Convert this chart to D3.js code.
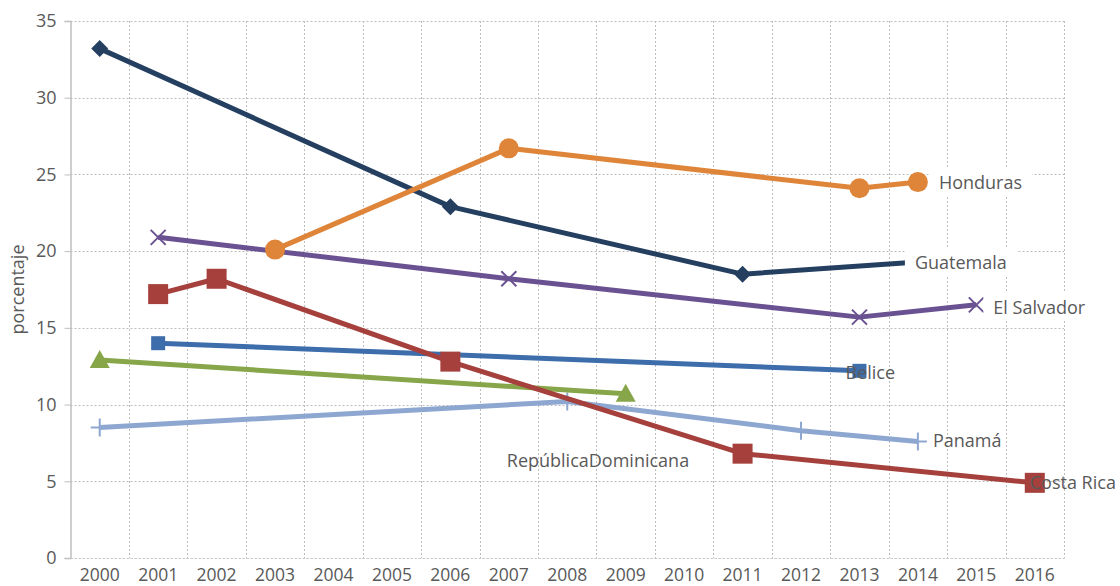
<!DOCTYPE html>
<html>
<head>
<meta charset="utf-8">
<script src="https://cdn.jsdelivr.net/npm/d3@7"></script>
<style>
  body { margin: 0; background: #fff; }
  text { font-family: "Open Sans", "Noto Sans", sans-serif; fill: #595959; }
</style>
</head>
<body>
<svg id="chart" width="1120" height="586"></svg>
<script>
// categories (years) and y ticks
var years = d3.range(2000, 2017).map(String);
var yTicks = [0, 5, 10, 15, 20, 25, 30, 35];

// series values: [year, porcentaje]
var guatemala = [['2000', 33.2], ['2006', 22.9], ['2011', 18.5], ['2014', 19.3]];
var honduras = [['2003', 20.1], ['2007', 26.7], ['2013', 24.1], ['2014', 24.5]];
var elSalvador = [['2001', 20.9], ['2007', 18.2], ['2013', 15.7], ['2015', 16.5]];
var costaRica = [['2001', 17.2], ['2002', 18.2], ['2006', 12.8], ['2011', 6.8], ['2016', 4.9]];
var belice = [['2001', 14.0], ['2013', 12.2]];
var repDominicana = [['2000', 12.9], ['2009', 10.7]];
var panama = [['2000', 8.5], ['2008', 10.2], ['2012', 8.3], ['2014', 7.6]];

var series = [
    {name: 'Panamá', data: panama, color: '#8EA7D1', marker: 'plus', size: 18,
        label: {dx: 15, dy: 6, anchor: 'start'}},
    {name: 'RepúblicaDominicana', data: repDominicana, color: '#87A64A', marker: 'triangle', size: 20,
        label: {at: '2007', val: 6.3, dx: -2, dy: 6, anchor: 'start'}},
    {name: 'Belice', data: belice, color: '#3D6DAA', marker: 'square', size: 14,
        label: {dx: -14, dy: 8, anchor: 'start'}},
    {name: 'Costa Rica', data: costaRica, color: '#A5403C', marker: 'square', size: 20,
        label: {dx: -5, dy: 6, anchor: 'start'}},
    {name: 'El Salvador', data: elSalvador, color: '#6A5191', marker: 'x', size: 15,
        label: {dx: 17, dy: 9, anchor: 'start'}, bg: true},
    {name: 'Guatemala', data: guatemala, color: '#243F60', marker: 'diamond', size: 17,
        label: {dx: -3, dy: 7, anchor: 'start'}, bg: true},
    {name: 'Honduras', data: honduras, color: '#DF8539', marker: 'circle', size: 20,
        label: {dx: 21, dy: 7, anchor: 'start'}, bg: true}
];

var svg = d3.select('#chart');
var margin = {left: 70.5, right: 56, top: 21, bottom: 28};
var W = 1120, H = 586;

var x = d3.scaleBand().domain(years).range([margin.left, W - margin.right]);
var y = d3.scaleLinear().domain([0, 35]).range([H - margin.bottom, margin.top]);
var cx = function (k) { return x(k) + x.bandwidth() / 2; };

// gridlines
var grid = svg.append('g');
grid.selectAll('line.h').data(yTicks).enter().append('line')
    .attr('x1', margin.left).attr('x2', W - margin.right)
    .attr('y1', function (d) { return Math.round(y(d)) + 0.5; })
    .attr('y2', function (d) { return Math.round(y(d)) + 0.5; })
    .attr('stroke', '#bdbdbd').attr('stroke-dasharray', '2,2');
grid.selectAll('line.v').data(years).enter().append('line')
    .attr('x1', function (d) { return Math.round(x(d) + x.bandwidth()) + 0.5; })
    .attr('x2', function (d) { return Math.round(x(d) + x.bandwidth()) + 0.5; })
    .attr('y1', y(35)).attr('y2', y(0))
    .attr('stroke', '#bdbdbd').attr('stroke-dasharray', '2,2');

// axes
var yAxis = svg.append('g').attr('transform', 'translate(' + margin.left + ',0)')
    .call(d3.axisLeft(y).tickValues(yTicks).tickSize(6).tickPadding(8));
yAxis.select('.domain').attr('stroke', '#bfbfbf').attr('stroke-width', 1.5);
yAxis.selectAll('.tick line').attr('stroke', '#bfbfbf');
yAxis.selectAll('.tick text').style('font-size', '18px').attr('fill', '#595959');

var xAxis = svg.append('g').attr('transform', 'translate(0,' + y(0) + ')')
    .call(d3.axisBottom(x).tickSize(0).tickPadding(11));
xAxis.select('.domain').attr('stroke', '#c8c8c8').attr('stroke-dasharray', '2,2');
xAxis.selectAll('.tick text').style('font-size', '17.5px').attr('fill', '#595959');

svg.append('text')
    .attr('transform', 'translate(24,' + y(17.5) + ') rotate(-90)')
    .attr('text-anchor', 'middle')
    .style('font-size', '18px')
    .text('porcentaje');

// lines and markers
var line = d3.line()
    .x(function (d) { return cx(d[0]); })
    .y(function (d) { return y(d[1]); });

function drawMarker(g, s, d) {
    var px = cx(d[0]), py = y(d[1]), h = s.size / 2;
    if (s.marker === 'circle') {
        g.append('circle').attr('cx', px).attr('cy', py).attr('r', h).attr('fill', s.color);
    } else if (s.marker === 'square') {
        g.append('rect').attr('x', px - h).attr('y', py - h).attr('width', s.size).attr('height', s.size)
            .attr('fill', s.color);
    } else if (s.marker === 'diamond') {
        g.append('path').attr('d', 'M' + px + ',' + (py - h) + 'L' + (px + h) + ',' + py +
            'L' + px + ',' + (py + h) + 'L' + (px - h) + ',' + py + 'Z').attr('fill', s.color);
    } else if (s.marker === 'triangle') {
        g.append('path').attr('d', 'M' + px + ',' + (py - h) + 'L' + (px + h) + ',' + (py + h * 0.8) +
            'L' + (px - h) + ',' + (py + h * 0.8) + 'Z').attr('fill', s.color);
    } else if (s.marker === 'x') {
        g.append('path').attr('d', 'M' + (px - h) + ',' + (py - h) + 'L' + (px + h) + ',' + (py + h) +
            'M' + (px + h) + ',' + (py - h) + 'L' + (px - h) + ',' + (py + h))
            .attr('stroke', s.color).attr('stroke-width', 2);
    } else if (s.marker === 'plus') {
        g.append('path').attr('d', 'M' + (px - h) + ',' + py + 'L' + (px + h) + ',' + py +
            'M' + px + ',' + (py - h) + 'L' + px + ',' + (py + h))
            .attr('stroke', s.color).attr('stroke-width', 2);
    }
}

series.forEach(function (s) {
    var g = svg.append('g');
    g.append('path').datum(s.data).attr('d', line)
        .attr('fill', 'none').attr('stroke', s.color).attr('stroke-width', 5)
        .attr('stroke-linejoin', 'round');
    s.data.forEach(function (d) { drawMarker(g, s, d); });
});

// data labels on top
series.forEach(function (s) {
    var last = s.data[s.data.length - 1];
    var lx = s.label.at ? cx(s.label.at) : cx(last[0]);
    var ly = y(s.label.val !== undefined ? s.label.val : last[1]);
    var t = svg.append('text')
        .attr('x', lx + s.label.dx).attr('y', ly + s.label.dy)
        .attr('text-anchor', s.label.anchor)
        .style('font-size', '18px')
        .text(s.name);
    if (s.bg) {
        var b = t.node().getBBox();
        svg.insert('rect', function () { return t.node(); })
            .attr('x', b.x - 10).attr('y', b.y - 2)
            .attr('width', b.width + 20).attr('height', b.height + 4)
            .attr('fill', '#fff');
    }
});
</script>
</body>
</html>
